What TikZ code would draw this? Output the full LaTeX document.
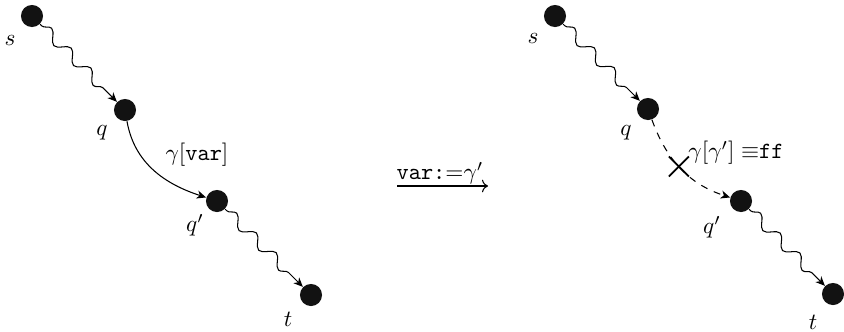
\documentclass[tikz,border=0pt]{standalone}
\usetikzlibrary{decorations.pathmorphing,arrows.meta}
\begin{document}
\begin{tikzpicture}[x=0.43pt,y=0.43pt,
  dot/.style={circle,fill=black!93,inner sep=0pt,minimum size=9.5pt},
  lbl/.style={inner sep=0pt},
  wavy/.style={decorate,decoration={snake,amplitude=2.3pt,segment length=12pt,pre length=1pt,post length=3pt}},
  tip/.style={-{Stealth[length=4pt,width=3.5pt,inset=1.2pt]}},
  thinline/.style={line width=0.45pt},
  crossline/.style={line width=0.75pt}]
\useasboundingbox (0,0) rectangle (844,331);
% left
\node[dot] (s) at (32,315) {};
\node[dot] (q) at (125,221) {};
\node[dot] (qp) at (217,130) {};
\node[dot] (t) at (311,36) {};
\node[lbl] (sl) at (10,291) {$s$};
\node[lbl] (ql) at (102,198) {$q$};
\node[lbl] (qpl) at (195,106) {$q'$};
\node[lbl] (tl) at (288,12) {$t$};
\draw[thinline,tip,wavy] (s) -- (q);
\draw[thinline,tip] (q) to[out=-80,in=162] (qp);
\node[lbl] (g) at (197,176) {$\gamma[\texttt{var}]$};
\draw[thinline,wavy,tip] (qp) -- (t);
% middle
\coordinate (a0) at (397,145);
\coordinate (a1) at (488,145);
\draw[thinline,->] (a0) -- (a1);
\node[lbl] (m) at (440,158) {\texttt{var:}${=}\gamma'$};
% right
\node[dot] (s2) at (555,315) {};
\node[dot] (q2) at (648,222) {};
\node[dot] (qp2) at (741,130) {};
\node[dot] (t2) at (833,37) {};
\node[lbl] (sl2) at (533,293) {$s$};
\node[lbl] (ql2) at (626,198) {$q$};
\node[lbl] (qpl2) at (712,104) {$q'$};
\node[lbl] (tl2) at (813,9) {$t$};
\draw[thinline,tip,wavy] (s2) -- (q2);
\draw[thinline,dashed,tip] (q2) to[out=-70,in=162] coordinate[pos=0.47] (x) (qp2);
\draw[crossline] ([shift={(-10,-10)}]x) -- ([shift={(10,10)}]x);
\draw[crossline] ([shift={(-10,10)}]x) -- ([shift={(10,-10)}]x);
\node[lbl] (g2) at (736,178) {$\gamma[\gamma']\equiv$\texttt{ff}};
\draw[thinline,wavy,tip] (qp2) -- (t2);
\end{tikzpicture}
\end{document}
